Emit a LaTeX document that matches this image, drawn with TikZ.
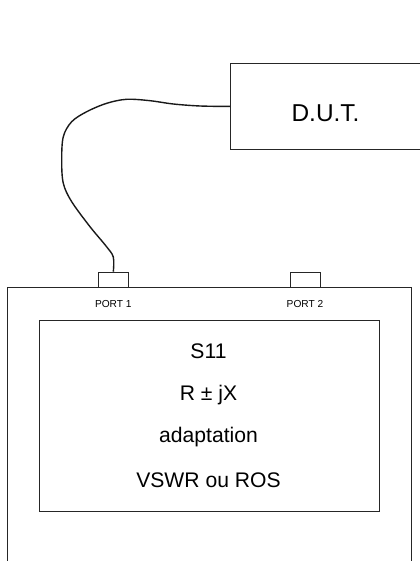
\documentclass[tikz,border=0pt]{standalone}
\usepackage{fontspec}
\setmainfont{Liberation Sans}
\begin{document}
\begin{tikzpicture}[x=1bp,y=-1bp,
  line/.style={draw=black!85, line width=0.8bp},
  bigtxt/.style={font=\fontsize{21.2}{25}\selectfont, inner sep=0pt, anchor=center},
  porttxt/.style={font=\fontsize{10.2}{12}\selectfont, inner sep=0pt, anchor=center},
  connbox/.style={line, minimum width=30bp, minimum height=15bp, inner sep=0pt},
  cable/.style={draw=black!90, line width=1.4bp}]
\useasboundingbox (0,0) rectangle (419,561);
% analyser outer casing (open at bottom)
\draw[line] (7.5,566) -- (7.5,287.5) -- (411,287.5) -- (411,566);
% D.U.T.
\node[line, minimum width=200bp, minimum height=85.5bp, anchor=north west, inner sep=0pt] (dut) at (230,63.3) {};
\node[font=\fontsize{24.5}{28}\selectfont, inner sep=0pt] (duttxt) at (325.5,113) {D.U.T.};
% ports
\node[connbox, anchor=south] (p1) at (113.3,287.5) {};
\node[connbox, anchor=south] (p2) at (305,287.5) {};
\node[porttxt] (p1t) at (113.3,303.5) {PORT 1};
\node[porttxt] (p2t) at (305,303.5) {PORT 2};
% screen
\node[line, minimum width=340.3bp, minimum height=191bp, anchor=north west, inner sep=0pt] (scr) at (39,319.7) {};
\node[bigtxt] (t1) at (208.5,351) {S11};
\node[bigtxt] (t2) at (208.5,395) {R ± jX};
\node[bigtxt] (t3) at (208.5,437) {adaptation};
\node[bigtxt] (t4) at (208.5,480) {VSWR ou ROS};
% cable
\draw[cable] plot[smooth, tension=0.55] coordinates {(p1.north) (113.3,257) (106,246) (90,226.7) (71.7,201.7) (63.3,183.3) (61.7,160) (63.3,136.7) (71.7,121.7) (86.7,111.7) (106.7,103.3) (126.7,99.3) (150,100.7) (173.3,104) (200,106) (dut.west)};
\end{tikzpicture}
\end{document}
